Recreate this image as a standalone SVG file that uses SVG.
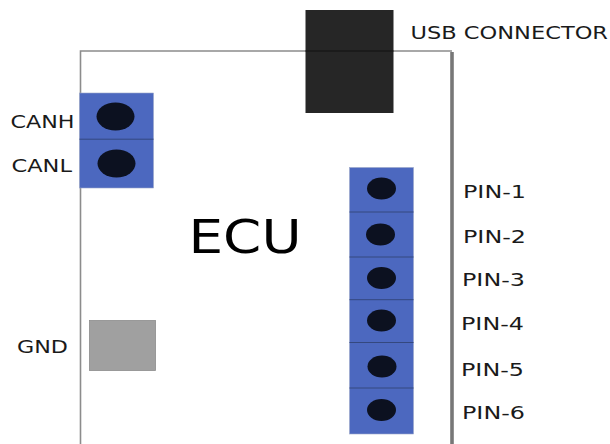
<svg xmlns="http://www.w3.org/2000/svg" width="610" height="444" viewBox="0 0 610 444">
<style>
text{font-family:"DejaVu Sans",sans-serif;fill:#1a1a1a;font-size:18px}
.blue{fill:#4c68bf;stroke:#9aa6c8;stroke-width:.6}
.div{stroke:#34487f;stroke-width:1;fill:none}
.hole{fill:#0c1120}
</style>
<rect width="610" height="444" fill="#fff"/>
<g id="ecu">
<path d="M80.500 444V51H452" fill="none" stroke="#8c8c8c" stroke-width="1.600"/>
<path d="M452 52V444" fill="none" stroke="#777" stroke-width="3.600"/>
<text x="188.500" y="253" style="font-size:47px;fill:#000" textLength="113" lengthAdjust="spacingAndGlyphs">ECU</text>
</g>
<g id="usb-connector">
<rect x="305.500" y="10" width="88" height="103" fill="#262626"/>
<path d="M305.500 51H393.500" stroke="#111" stroke-width="1.200"/>
<text x="410.500" y="38.500" textLength="197.500" lengthAdjust="spacingAndGlyphs">USB CONNECTOR</text>
</g>
<g id="can-connector">
<rect class="blue" x="79.500" y="93" width="74" height="95"/>
<path class="div" d="M79.500 139.200H153.500"/>
<ellipse class="hole" cx="115.500" cy="116.500" rx="19" ry="14"/>
<ellipse class="hole" cx="116.500" cy="163.500" rx="19" ry="14"/>
<text x="10.500" y="127.500" textLength="64" lengthAdjust="spacingAndGlyphs">CANH</text>
<text x="11.500" y="171.500" textLength="60.500" lengthAdjust="spacingAndGlyphs">CANL</text>
</g>
<g id="gnd">
<rect x="89.500" y="320.500" width="66" height="50" fill="#a0a0a0" stroke="#8c8c8c" stroke-width=".8"/>
<text x="17" y="352.500" textLength="51" lengthAdjust="spacingAndGlyphs">GND</text>
</g>
<g id="pin-header">
<rect class="blue" x="349.500" y="167.500" width="64" height="266.500"/>
<path class="div" d="M349.500 212H413.500M349.500 257H413.500M349.500 299.700H413.500M349.500 342.500H413.500M349.500 388H413.500"/>
<ellipse class="hole" cx="381.500" cy="188.500" rx="14.500" ry="11"/>
<ellipse class="hole" cx="380.500" cy="234.500" rx="14.500" ry="11"/>
<ellipse class="hole" cx="381.500" cy="278" rx="14.500" ry="11"/>
<ellipse class="hole" cx="381.500" cy="320.500" rx="14.500" ry="11"/>
<ellipse class="hole" cx="382" cy="366.500" rx="14.500" ry="11"/>
<ellipse class="hole" cx="381.500" cy="410" rx="14.500" ry="11"/>
<text x="463" y="197.500" textLength="63" lengthAdjust="spacingAndGlyphs">PIN-1</text>
<text x="463" y="242.500" textLength="63" lengthAdjust="spacingAndGlyphs">PIN-2</text>
<text x="462" y="285.500" textLength="63" lengthAdjust="spacingAndGlyphs">PIN-3</text>
<text x="461" y="329.500" textLength="63" lengthAdjust="spacingAndGlyphs">PIN-4</text>
<text x="461" y="375.500" textLength="63" lengthAdjust="spacingAndGlyphs">PIN-5</text>
<text x="462" y="418.500" textLength="63" lengthAdjust="spacingAndGlyphs">PIN-6</text>
</g>
</svg>
